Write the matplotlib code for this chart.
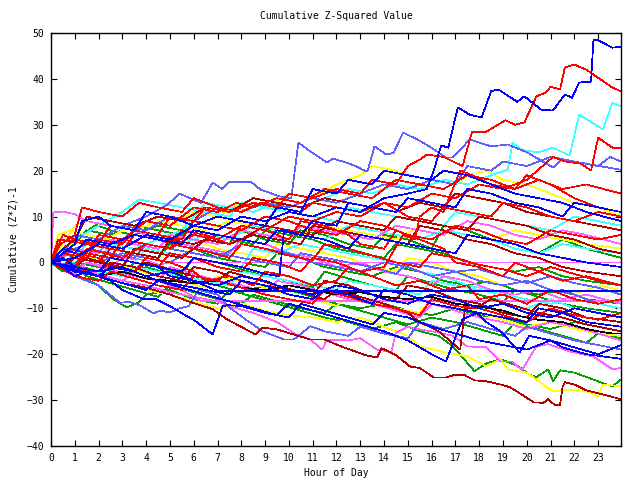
import matplotlib
matplotlib.use("Agg")
import matplotlib.pyplot as plt

# colours used by the chart
RED = '#ff0000'
DRED = '#b00000'
GREEN = '#00a000'
BLUE = '#0000ff'
LBLUE = '#6060ff'
CYAN = '#40ffff'
MAGENTA = '#ff60ff'
YELLOW = '#ffff00'
BLACK = '#000000'

hour_ticks = list(range(0, 24))
value_ticks = list(range(-40, 60, 10))

# each walk: (hour, cumulative z^2-1) points
red_walks = [
    [(0,0),(0.5,2),(1.5,1),(2,5),(3,4),(3.5,7),(4.5,6),(5,10),(6,9),(6.5,12),(7.5,11),(8.5,13),(9.5,12),(10,15),(11,14),(12,16),(13,15),(13.5,18),(14.5,17),(15,21),(15.5,22.4),(15.8,23.5),(16.5,23),(17.3,21),(17.7,28.5),(18.3,28.5),(19.1,31),(19.5,30),(19.9,30.5),(20.4,36.2),(20.8,37),(21,38.3),(21.4,37.7),(21.6,42.5),(22,43.1),(22.5,42),(23.1,39.9),(23.6,38.1),(23.96,37.3)],
    [(0,0),(1,-1),(1.5,3),(3,1),(4,4),(5,3),(6,6),(7,5),(8,8),(9,7),(10,10),(11,9),(12,11),(13,10),(14,13),(15,12),(16,15),(17,14),(18,17),(19,16),(20,18),(21.1,23),(21.6,22),(22.3,21.5),(22.7,20),(23,27.2),(23.6,25),(23.96,25)],
    [(0,0),(0.4,4),(1,6),(1.3,12),(2,11),(3,10),(3.7,13),(4.5,12),(5.5,11),(6,14),(7,12),(8,11),(8.8,13),(9.5,12),(10.5,11),(11,13),(12,12),(13,11),(14,13),(15,10),(16,9),(16.5,12),(17.5,11),(18.5,10),(19,13),(20,12),(21,10),(22,9),(23,11),(23.96,10)],
    [(0,0),(1,-1),(1.5,2),(2.5,1),(3,5),(4,4),(5,3),(5.5,7),(6.5,6),(7.5,4),(8,8),(9,7),(10,5),(10.5,9),(11.5,8),(12.5,6),(13,4),(14,3),(14.5,7),(15.5,5),(16.5,3),(17,0),(18,-1),(19,-3),(19.5,0),(20.5,-2),(21.5,-4),(22.5,-3),(23.96,-5)],
    [(0,0),(1,-1.5),(2,-2),(2.5,1),(3.5,0),(4.5,-1),(5,2),(6,1),(7,-1),(8,-2),(8.5,1),(9.5,0),(10.5,-2),(11,1),(12,0),(13,-2),(14,-1),(14.8,6),(15.3,5),(15.5,10),(16,12),(16.5,11),(17.2,20),(17.7,19),(18.5,17),(19.5,16),(20,19),(21,17),(22,14),(23,12),(23.96,11)],
    [(0,0),(0.5,-1),(1,2),(2,1),(2.5,-1),(3.5,-2),(4,1),(5,0),(6,-2),(6.5,-4),(7.5,-3),(8.5,-5),(9,-2),(10,-3),(11,-5),(12,-4),(12.5,-1),(13.5,-3),(14.5,-5),(15.5,-4),(16.5,-6),(17.5,-5),(18,-8),(19,-7),(20,-9),(21,-6),(22,-8),(23,-9),(23.96,-8)],
    [(0,0),(0.8,3),(1.5,2),(2,6),(3,5),(4,9),(5,8),(6,12),(7,11),(7.8,13),(8.5,12),(9.5,14),(10.5,13),(11.5,16),(12.5,15),(13.5,14),(14.5,18),(15.5,17),(16.5,16),(17.5,19),(18.5,18),(19.5,16),(20.5,18),(21.5,16),(22.5,17),(23.96,15)],
    [(0,0),(0.5,6),(1,5),(2,4),(2.5,8),(3.5,7),(4.5,6),(5.5,5),(6,9),(7,8),(8,7),(9,10),(10,9),(11,7),(12,6),(13,9),(14,8),(15,6),(16,5),(17,8),(18,7),(19,5),(20,4),(21,7),(22,6),(23,5),(23.96,6)],
    [(0,0),(0.3,5),(1,4.5),(2,3.5),(3,2.5),(3.5,6),(4.5,5),(5.5,3.5),(6.5,2.5),(7.5,1),(8,4),(9,3),(10,1.5),(11,0.5),(11.5,4),(12.5,3),(13.5,1.5),(14.5,0),(15.5,-1),(16,2),(17,1),(18,-0.5),(19,-1.5),(20,-3),(21,-1),(22,-2.5),(23,-4),(23.96,-5)],
    [(0,0),(0.5,-1.5),(1,-3),(2,-4),(2.5,-2),(3.5,-3.5),(4.5,-5),(5.5,-6),(6,-3),(7,-4),(8,-5.5),(9,-7),(10,-8),(11,-9),(11.5,-6),(12.5,-7.5),(13.5,-9),(14.5,-10),(15.5,-11.5),(16,-8),(17,-9.5),(18,-10),(19,-11.5),(20,-13),(21,-10),(22,-11.5),(23,-12.5),(23.96,-11)],
]

dred_walks = [
    [(0,0),(1,-1.5),(2,-3),(3,-4.5),(4,-5.5),(5,-7),(5.8,-8.5),(6.8,-10.2),(7.4,-12.4),(8.6,-15.7),(8.9,-14.2),(9.5,-14.6),(10.9,-16.8),(11.5,-16.8),(12.2,-18.3),(12.9,-19.6),(13.2,-20.2),(13.7,-20.7),(13.9,-18.7),(14.5,-20.2),(15.1,-22.7),(15.5,-23),(16.1,-25.1),(16.6,-25.1),(16.9,-24.6),(17.4,-24.6),(17.8,-25.7),(18.3,-25.9),(18.9,-26.6),(19.3,-27.2),(19.7,-28.5),(20.3,-30.5),(20.7,-30.6),(20.9,-29.8),(21.2,-31.2),(21.4,-31),(21.5,-27.2),(21.6,-26.1),(22,-26.6),(22.5,-27.9),(23,-28.5),(23.96,-29.8)],
    [(0,0),(1,-1),(1.5,1),(2.5,-0.5),(3.5,-2),(4,0),(5,-1.5),(6,-3),(7,-4),(7.5,-2),(8.5,-3.5),(9.5,-5),(10.5,-6.5),(11.5,-8),(12,-6),(13,-7.5),(14,-9),(15,-11),(15.5,-13),(16.3,-15),(17.2,-19),(17.4,-10.2),(18,-9.5),(18.5,-8),(19.5,-9.5),(20.5,-11),(21.5,-12),(22.5,-13.5),(23.96,-15)],
    [(0,0),(0.5,3),(1,5),(1.5,10),(2.5,9),(3.5,8),(4.5,10),(5.5,9),(6.5,12),(7.5,11),(8.5,14),(9.5,13),(10.5,12),(11.5,14),(12.5,13),(13.5,12),(14.5,11),(15.5,13),(16.5,12),(17,15),(18,14),(19,13),(20,11),(21,10),(22,9),(23,8),(23.96,7)],
    [(0,0),(0.5,-1),(1,1),(2,0),(3,-1),(3.5,3),(4.5,2),(5.5,1),(6.5,5),(7.5,4),(8.5,6),(9.5,5),(10.5,4),(11,8),(12,7),(13,6),(14,5),(15,4),(15.5,8),(16.5,7),(17.5,5),(18.5,4),(19.5,2),(20.5,1),(21.5,-1),(22.5,-2),(23.96,-3)],
    [(0,0),(1,-1),(2,-2),(2.5,0),(3.5,-1),(4.5,-3),(5.5,-4),(6,-1),(7,-2),(8,-4),(9,-5),(10,-6),(11,-7),(11.5,-4),(12.5,-5),(13.5,-7),(14.5,-8),(15,-5),(16,-6),(17,-8),(18,-9),(19,-11),(20,-12),(20.5,-9),(21.5,-10),(22.5,-12),(23.96,-13)],
    [(0,0),(0.5,-1),(1,1),(2,0),(2.5,3),(3.5,2),(4.5,1),(5,5),(6,4),(7,6),(8,5),(9,8),(10,7),(11,6),(12,9),(13,8),(14,7),(14.5,10),(15.5,9),(16.5,8),(17.5,7),(18,10),(19,9),(20,8),(21,6),(22,5),(23,3),(23.96,2)],
]

green_walks = [
    [(0,0),(0.5,-1),(1,-2.5),(2,-5),(2.6,-8),(3.2,-9.8),(3.7,-8.7),(4,-7),(5,-6),(6,-8),(7,-9),(7.5,-6),(8.5,-7.5),(9.5,-9),(10.5,-10.5),(11.5,-12),(12.5,-13),(13.5,-14.5),(14.5,-13),(15.5,-15),(16.3,-16),(16.9,-18.3),(17.8,-23.7),(18.3,-22),(18.9,-21.1),(19.6,-22.5),(20.1,-24.4),(20.4,-25),(20.9,-23.3),(21.1,-25.9),(21.4,-23.5),(22,-24),(23.1,-26.1),(23.6,-27),(23.96,-25.5)],
    [(0,0),(1,-1),(1.5,-3),(2.5,-4.5),(3.5,-6),(4.5,-7.5),(5,-5),(6,-6.5),(7,-8),(8,-9),(8.5,-7),(9.5,-8.5),(10.5,-10),(11.5,-11),(12,-9),(13,-10.5),(14,-12),(15,-13.5),(16,-12),(17,-13),(18,-14.5),(19,-16),(19.5,-13),(20.5,-14.5),(21.5,-16),(22.5,-17.5),(23,-15.5),(23.96,-16.5)],
    [(0,0),(0.5,3),(1,4),(1.5,7),(2.5,6),(3.5,8),(4.5,7),(5.5,6),(6,9),(7,8),(8,7),(9,5),(10,4),(10.5,7),(11.5,6),(12.5,4),(13.5,3),(14,6),(15,5),(16,3),(16.5,8),(17.5,7),(18.5,5),(19.5,4),(20.5,2),(21.5,5),(22.5,3),(23.96,1)],
    [(0,0),(0.5,-2),(1,0),(2,-1),(3,-2.5),(4,-1),(5,-2.5),(6,-4),(7,-5),(8,-6.5),(9,-5),(10,-6),(11,-7.5),(12,-9),(13,-10),(14,-9),(15,-10.5),(16,-11.5),(17,-10),(18,-11.5),(19,-12),(20,-13.5),(21,-14.5),(22,-13),(23,-14),(23.96,-15)],
    [(0,0),(1,1),(1.5,4),(2.5,3),(3.5,2),(4.5,1),(5,4),(6,3),(7,1),(8,0),(9,-1),(9.5,2),(10.5,1),(11.5,-1),(12.5,-2),(13.5,-3),(14.5,-1),(15.5,-2),(16.5,-4),(17.5,-5),(18.5,-4),(19.5,-6),(20.5,-7),(21.5,-6),(22.5,-8),(23.96,-9)],
    [(0,0),(0.5,1),(1,-0.5),(2,-2),(3,-3),(3.5,0),(4.5,-1),(5.5,-2.5),(6,1),(7,0),(8,-1.5),(9,-3),(10,-4),(11,-5.5),(11.5,-2),(12.5,-3.5),(13.5,-5),(14.5,-6),(15,-3),(16,-4.5),(17,-6),(18,-7),(19,-8.5),(19.5,-6),(20.5,-7.5),(21.5,-9),(22.5,-10),(23.96,-11)],
    [(0,0),(0.5,3),(1,5),(1.9,8.2),(2.5,7),(3.5,6),(4.5,8),(5.5,7),(6.5,6),(7.5,5),(8.5,4),(9,7),(10,6),(11,5),(12,3),(13,2),(14,1),(14.5,4),(15.5,3),(16.5,2),(17.5,0),(18.5,-1),(19.5,-2),(20.5,-1),(21.5,-3),(22.5,-4),(23.96,-5)],
]

blue_walks = [
    [(0,0),(1,1),(2,4),(3,3),(4,6),(5,5),(6,8),(7,7),(8,10),(9,9),(10,11),(11,10),(12,12),(13,11),(14,14),(15,15),(15.8,16),(16.1,20.2),(16.4,25.5),(16.7,25),(17.1,33.8),(17.6,32.2),(18.1,31.6),(18.5,37.3),(18.8,37.7),(19.6,35),(19.9,36.2),(20.6,33.3),(21.1,33.1),(21.6,36.6),(21.9,35.9),(22.2,39.2),(22.7,39.4),(22.8,48.4),(23,48.4),(23.6,46.8),(23.96,47)],
    [(0,0),(0.5,-1),(1,-3),(1.5,-2),(2.5,-4),(3,-6),(3.9,-8),(4.4,-8),(5.1,-9.8),(5.7,-11.7),(6,-12.5),(6.8,-15.7),(7.2,-9.6),(7.4,-9.3),(8,-9.5),(9,-11),(10,-12),(10.5,-9),(11.5,-10.5),(12.5,-12),(13.5,-13.5),(14,-11),(15,-12),(16,-14),(17,-15.5),(18,-17),(19,-18),(20,-19),(21,-17),(22,-18.5),(23,-20),(23.96,-18)],
    [(0,0),(1,-1.5),(2,-3),(3,-4.5),(4,-6),(4.5,-4),(5.5,-5.5),(6.5,-7),(7.5,-8.5),(8.5,-10),(9.5,-11.5),(10,-9),(11,-10.5),(12,-12),(13,-13.5),(14,-15),(15,-17),(15.5,-18.5),(16,-20),(16.6,-21.6),(17.3,-12.4),(17.9,-11),(18.3,-13),(18.9,-15),(19.7,-19.6),(20.1,-16),(21,-17),(21.5,-18.5),(22.5,-20),(23.96,-21)],
    [(0,0),(0.5,2),(1,4),(1.3,9),(2,10),(2.5,8),(3.5,7),(4,11),(5,10),(6,8),(7,10),(8,9),(9,8),(9.5,12),(10.5,11),(11,16),(12,15),(12.5,18),(13.5,17),(14,20),(15,19),(16,18),(16.5,20),(17.5,19),(18.5,17),(19.5,15),(20.5,14),(21.5,13),(22.5,11),(23.96,9)],
    [(0,0),(1,-1),(2,-2),(2.5,1),(3.5,0),(4.5,-1),(5.5,-2),(6,1),(7,0),(8,-1),(9,-2.5),(9.6,-3),(9.8,7),(10.5,6),(11,9),(12,8),(12.5,13),(13.5,12),(14.5,11),(15,14),(16,13),(17,12),(17.5,16),(18.5,15),(19.5,13),(20.5,12),(21.5,10),(22,13),(23,12),(23.96,11)],
    [(0,0),(0.5,1),(1,-1),(2,-2),(3,-1),(4,-3),(5,-2),(6,-4),(7,-5),(8,-3),(9,-4),(10,-6),(11,-7),(12,-5),(13,-6),(14,-8),(15,-9),(16,-7),(17,-8),(18,-10),(19,-9),(20,-11),(21,-12),(22,-10),(23,-11),(23.96,-12)],
    [(0,0),(1,-1),(2,-2),(2.5,1),(3.5,0),(4.5,-1),(5,-3),(6,-4),(7,-6.2),(23.96,-6.2)],
    [(0,0),(0.5,-1),(1,-2),(2,-3),(2.5,-1),(3.5,-2),(4.5,-4),(5.5,-5),(6.5,-6),(7.5,-7),(8,-4),(9,-5),(10,-7),(11,-8),(11.5,-6),(12.5,-7),(13.5,-9),(14,-6),(15,-7),(16,-9),(17,-10),(18,-11),(19,-12),(20,-13),(20.5,-10),(21.5,-11),(22.5,-13),(23.96,-14)],
    [(0,0),(0.5,3),(1,2),(1.5,5),(2.5,4),(3.5,6),(4.5,5),(5.5,4),(6,7),(7,6),(8,5),(9,4),(9.5,7),(10.5,6),(11.5,5),(12.5,3),(13,6),(14,5),(15,4),(16,3),(17,2),(17.5,6),(18.5,5),(19.5,4),(20.5,2),(21.5,1),(22.5,0),(23.96,-1)],
]

lblue_walks = [
    [(0,0),(1,3),(2,5),(3,8),(4,10),(4.9,12.6),(5.4,15),(6.3,13),(6.8,17.4),(7.2,16),(7.5,17.6),(8.4,17.6),(8.8,15.9),(9.6,14.4),(10.1,14),(10.4,26.1),(10.9,24.2),(11.6,21.8),(11.85,22.6),(12.4,21.8),(12.8,21),(13.1,20.2),(13.3,19.8),(13.6,25.3),(14.1,23.5),(14.4,23.9),(14.8,28.3),(15.4,26.8),(15.9,25.3),(16.6,22.9),(16.9,22.9),(17.6,26.8),(18.5,25.3),(19.2,25.7),(20,24),(21.1,20.7),(21.5,22.5),(22.5,21.5),(23.96,20.2)],
    [(0,0),(0.5,-1),(1,-3),(2,-5),(2.9,-8.8),(3.3,-8.6),(3.8,-9.5),(4.3,-11.1),(4.6,-10.5),(5,-10.9),(5.4,-10),(5.8,-9.5),(6.2,-6),(7,-7),(7.5,-9.8),(8.2,-12.5),(8.9,-15),(9.8,-16.8),(10.2,-16.8),(10.9,-13.9),(11.5,-15),(12.5,-16),(13,-14),(14,-15.5),(15,-16.5),(15.5,-13),(16.5,-14.5),(17.5,-13),(18.5,-14.5),(19.5,-16),(20,-14),(21,-15.5),(22,-17),(23,-18),(23.96,-19)],
    [(0,0),(0.5,2),(1,6),(2,5),(3,8),(4,7),(5,10),(6,9),(7,12),(8,11),(9,13),(10,12),(11,14),(12,13),(13,15),(14,17),(15,16),(16,18),(17,17),(17.5,21),(18.5,20),(19,22),(20,21),(21,23),(22,22),(23,21),(23.5,23),(23.96,22)],
    [(0,0),(1,-0.5),(1.5,3),(2.5,2),(3.5,1),(4,4),(5,3),(6,2),(7,1),(8,4),(9,3),(10,2),(11,0),(12,-1),(13,-2),(14,0),(15,-1),(16,-3),(17,-2),(18,-4),(19,-5),(20,-4),(21,-6),(22,-7),(23,-9),(23.96,-8)],
    [(0,0),(0.5,2),(1,1),(2,0),(3,2),(4,1),(5,0),(6,3),(7,2),(8,1),(9,0),(10,-1),(10.5,2),(11.5,1),(12.5,0),(13.5,-1),(14.5,-2.5),(15,0),(16,-1),(17,-2),(18,-1.5),(19,-3),(20,-4.5),(21,-3),(22,-4.5),(23,-5.5),(23.96,-7)],
]

cyan_walks = [
    [(0,0),(0.5,2),(1,1),(1.5,4),(2.5,3),(3.5,6),(4.5,5),(5.5,7),(6,10),(6.5,13),(7.5,12),(8.5,11),(9.5,13),(10.5,12),(11.5,14),(12.5,16),(13.5,15),(14.5,17),(15.5,16),(16.5,18),(17.5,17),(18.5,19),(19.2,20.2),(19.4,26.1),(19.8,24.5),(20.5,24),(21.1,25),(21.8,23.3),(22.2,32.2),(23.2,29),(23.6,34.8),(23.96,34)],
    [(0,0),(0.5,3),(1,5),(2,8),(3,11),(3.7,13.7),(4.5,13),(5.5,12),(6.5,11),(7.5,10),(8,13),(9,12),(10,11),(11,10),(12,9),(12.5,12),(13.5,11),(14.5,10),(15.5,9),(16.5,8),(17,11),(18,10),(19,9),(20,8),(21,7),(22,10),(23,9),(23.96,8)],
    [(0,0),(0.5,1),(1,0),(1.5,2),(2.5,1),(3.5,0),(4,3),(5,2),(6,1),(7,0),(8,-1),(8.5,3),(9.5,2),(10.5,4),(11.5,3),(12.5,2),(13.5,1),(14.5,0),(15.5,-2),(16.5,-3),(17.5,-5),(18.5,-6),(19,-9),(20,-10),(21,-8),(22,-10),(23,-11),(23.96,-12)],
    [(0,0),(1,1),(2,0),(2.5,4),(3.5,3),(4.5,5),(5.5,4),(6.5,6),(7.5,5),(8.5,8),(9.5,7),(10.5,6),(11.5,5),(12.5,8),(13.5,7),(14.5,6),(15.5,5),(16.5,7),(17.5,6),(18.5,5),(19.5,3),(20.5,2),(21.5,4),(22.5,3),(23.96,2)],
    [(0,0),(1,-1),(2,-2),(3,-3),(3.5,-1),(4.5,-2),(5.5,-3),(6.5,-4),(7.5,-5),(8,-2),(9,-3),(10,-4),(11,-5),(12,-6),(12.5,-4),(13.5,-5),(14.5,-6),(15.5,-7),(16,-4),(17,-5),(18,-6),(19,-7),(20,-8),(21,-9),(22,-8),(23,-9),(23.96,-10)],
]

magenta_walks = [
    [(0,0),(0.1,10.9),(0.5,11.1),(1,10.5),(1.5,9),(2.5,8),(3.5,7),(4.5,5),(5.5,4),(6.5,3),(7.5,2),(8,5),(9,4),(10,2),(11,1),(12,-1),(13,0),(14,-2),(15,-3),(16,-5),(16.5,-3),(17.5,-4),(18.5,-6),(19.5,-7),(20.5,-6),(21.5,-8),(22.5,-7),(23.96,-9)],
    [(0,0),(0.5,-1),(1,-2),(1.5,0),(2.5,-1),(3,1),(4,0.5),(4.5,-0.5),(5,0),(23.96,0)],
    [(0,0),(1,-1),(2,-2.5),(3,-4),(3.5,-2),(4.5,-4),(5.5,-6),(6.3,-8.4),(23.96,-8.4)],
    [(0,0),(1,-1),(2,-2.5),(3,-4),(4,-5),(5,-6.5),(6,-7.5),(7,-8.5),(7.5,-9.5),(8.5,-11),(9.5,-13),(10.3,-15.7),(10.9,-16.8),(11.4,-19),(11.6,-16.8),(12.5,-17),(13,-16.5),(13.7,-19),(14.3,-19.5),(14.5,-15.3),(15,-14),(15.5,-14.6),(16,-15),(16.9,-16),(17.5,-18.3),(18.3,-18.5),(18.9,-21.6),(19.4,-21.6),(19.8,-23.5),(20.4,-18.3),(20.9,-17.8),(21.8,-19.4),(22.8,-20.5),(23.6,-23.3),(23.96,-23)],
    [(0,0),(0.5,1),(1,3),(2,2),(2.5,5),(3.5,4),(4.5,3),(5,6),(6,5),(7,4),(8,7),(9,6),(10,5),(10.5,8),(11.5,7),(12.5,6),(13.5,5),(14.5,8),(15.5,7),(16.5,6),(17.5,9),(18.5,8),(19.5,6),(20.5,5),(21.5,7),(22.5,6),(23.96,4)],
    [(0,0),(0.5,-1),(1,-2.5),(1.5,0),(2.5,-1.5),(3.5,-3),(4.5,-4),(5,-1),(6,-2.5),(7,-4),(8,-5),(9,-6.5),(9.5,-4),(10.5,-5),(11.5,-6.5),(12.5,-8),(13.5,-9),(14.5,-10.5),(15.5,-12),(16,-9),(17,-10.5),(18,-12),(19,-13),(20,-14.5),(21,-13),(22,-14),(23,-15.5),(23.96,-17)],
]

yellow_walks = [
    [(0,0),(1,-1.5),(2,-3),(3,-4.5),(4,-6),(5,-7),(6,-8.5),(7,-10),(8,-9),(9,-10.5),(10,-11.5),(11,-12),(12,-13),(13,-12),(14,-14),(15,-16),(15.5,-18.3),(16.5,-19.5),(17.5,-20.5),(18.3,-22.6),(18.9,-21.1),(19.2,-23.3),(20,-24),(20.4,-25.5),(21.1,-28.1),(21.8,-27.7),(22.5,-28),(23,-29.2),(23.2,-26.6),(23.96,-27)],
    [(0,0),(0.5,2),(1,5),(2,4),(3,7),(4,9),(5,8),(6,11),(7,10),(8,13),(9,12),(10,15),(11,14),(12,17),(13,19),(13.5,21),(14.5,20),(15,19),(16,18),(17,17),(17.5,19),(18.3,20),(19,18),(20,17),(21,15),(22,13),(23,12),(23.96,10)],
    [(0,0),(0.3,6),(0.8,7),(1.5,6),(2.5,5),(3.5,4),(4.5,3),(5,6),(6,5),(7,3),(8,2),(9,1),(9.5,4),(10.5,3),(11.5,2),(12.5,1),(13.5,-1),(14.5,-2),(15,1),(16,0),(17,-2),(18,-3),(19,-5),(20,-4),(21,-6),(22,-7),(23,-5),(23.96,-6)],
    [(0,0),(1,-1),(1.5,1),(2.5,0),(3.5,-1.5),(4.5,-3),(5.5,-4),(6.5,-5.5),(7,-3),(8,-4),(9,-5.5),(10,-7),(11,-8),(12,-9.5),(12.5,-7),(13.5,-8.5),(14.5,-10),(15.5,-11),(16,-8),(17,-9.5),(18,-11),(19,-12.5),(20,-14),(21,-13),(22,-14.5),(23,-15.5),(23.96,-16)],
    [(0,0),(0.5,4),(1,8),(1.5,9),(2.5,8),(3.5,7),(4.5,9),(5.5,8),(6.5,7),(7.5,9),(8.5,8),(9.5,7),(10.5,6),(11.5,8),(12.5,7),(13.5,6),(14.5,5),(15.5,8),(16.5,7),(17.5,6),(18.5,5),(19.5,7),(20.5,6),(21.5,5),(22.5,4),(23.96,3)],
]

black_walks = [
    [(0,0),(0.5,-1),(1,-2),(2,-3),(3,-2),(4,-3.5),(5,-4),(6,-4.5),(7,-4),(8,-5.5),(9,-6),(10,-5),(11,-6),(12,-7),(13,-6.5),(14,-7.5),(15,-8),(16,-7.5),(17,-9),(18,-9.6),(19,-10.5),(19.7,-11.7),(20.5,-12.5),(21.5,-13),(22.5,-14.5),(23,-15),(23.6,-15.5),(23.96,-15.5)],
]

groups = [
    (green_walks, GREEN), (yellow_walks, YELLOW), (cyan_walks, CYAN),
    (magenta_walks, MAGENTA), (lblue_walks, LBLUE), (dred_walks, DRED),
    (black_walks, BLACK), (red_walks, RED), (blue_walks, BLUE),
]

plt.rcParams['font.family'] = 'DejaVu Sans Mono'
fig = plt.figure(figsize=(6.4, 4.8), dpi=100)
ax = fig.add_axes([51/640, 34/480, 570/640, 413/480])

for walks, col in groups:
    for w in walks:
        xs = [p[0] for p in w]
        ys = [p[1] for p in w]
        ax.plot(xs, ys, color=col, lw=0.5, antialiased=False)

ax.set_xlim(0, 23.96)
ax.set_ylim(-40, 50)
ax.set_xticks(hour_ticks)
ax.set_yticks(value_ticks)
ax.tick_params(direction='in', top=True, right=True, length=4, width=0.8,
               labelsize=7, pad=5)
for s in ax.spines.values():
    s.set_linewidth(1)

ax.set_title('Cumulative Z-Squared Value', fontsize=7, pad=10)
ax.set_xlabel('Hour of Day', fontsize=7, labelpad=4)
ax.set_ylabel('Cumulative (Z*Z)-1', fontsize=7, labelpad=6)

fig.savefig('out.png', dpi=100)
